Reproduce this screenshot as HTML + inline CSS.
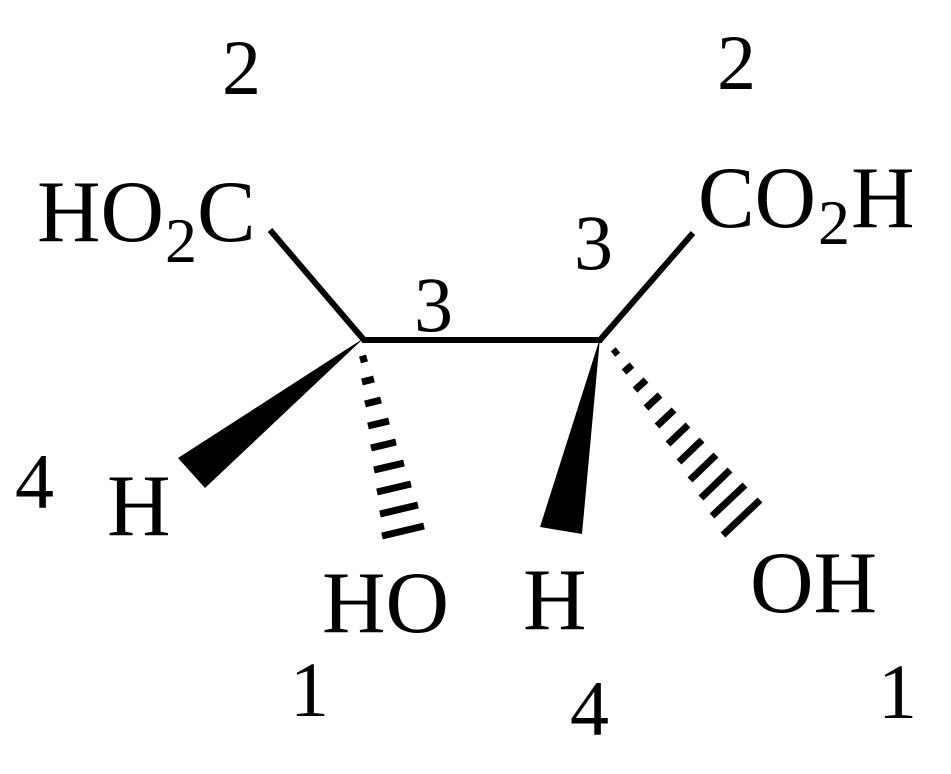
<!DOCTYPE html>
<html><head><meta charset="utf-8"><style>
html,body{margin:0;padding:0;background:#fff;}
svg{display:block;}
text{font-family:"Liberation Serif",serif;fill:#000;}
</style></head><body>
<svg width="951" height="774" viewBox="0 0 951 774" xmlns="http://www.w3.org/2000/svg">
<g stroke="#000" stroke-width="6" stroke-linecap="butt">
<line x1="270" y1="230" x2="364" y2="340"/>
<line x1="693" y1="233" x2="600" y2="340"/>
<line x1="362" y1="340" x2="602" y2="340"/>
</g>
<polygon points="364,338 178,458 205,488" fill="#000"/>
<polygon points="600,338 540,527 582,534" fill="#000"/>
<g stroke="#000" stroke-width="7">
<line x1="360" y1="360" x2="367" y2="358"/>
<line x1="362" y1="382" x2="374" y2="379"/>
<line x1="365" y1="404" x2="381" y2="400"/>
<line x1="368" y1="426" x2="389" y2="421"/>
<line x1="371" y1="448" x2="396" y2="442"/>
<line x1="374" y1="470" x2="404" y2="463"/>
<line x1="377" y1="492" x2="411" y2="484"/>
<line x1="380" y1="514" x2="418" y2="505"/>
<line x1="382" y1="536" x2="424" y2="526"/>
</g>
<g stroke="#000" stroke-width="7">
<line x1="613" y1="354" x2="618" y2="350"/>
<line x1="624" y1="372" x2="632" y2="365"/>
<line x1="635" y1="390" x2="646" y2="380"/>
<line x1="646" y1="408" x2="660" y2="395"/>
<line x1="657" y1="426" x2="674" y2="410"/>
<line x1="668" y1="444" x2="688" y2="425"/>
<line x1="679" y1="462" x2="702" y2="440"/>
<line x1="690" y1="480" x2="716" y2="455"/>
<line x1="701" y1="498" x2="730" y2="470"/>
<line x1="712" y1="516" x2="745" y2="485"/>
<line x1="723" y1="535" x2="760" y2="500"/>
</g>
<text x="37" y="241" font-size="88">HO</text>
<text x="165" y="262" font-size="64">2</text>
<text x="197" y="241" font-size="88">C</text>
<text x="698" y="227" font-size="88" textLength="118" lengthAdjust="spacingAndGlyphs">CO</text>
<text x="818" y="244" font-size="64">2</text>
<text x="851" y="227" font-size="88">H</text>
<text x="107" y="535" font-size="88">H</text>
<text x="322" y="632" font-size="88">HO</text>
<text x="523" y="629" font-size="88">H</text>
<text x="750" y="612" font-size="88">OH</text>
<g font-size="78">
<text x="222" y="94">2</text>
<text x="717" y="89">2</text>
<text x="414" y="331">3</text>
<text x="574" y="269">3</text>
<text x="15" y="508">4</text>
<text x="570" y="735">4</text>
<text x="290" y="716">1</text>
<text x="878" y="718">1</text>
</g>
</svg>
</body></html>
